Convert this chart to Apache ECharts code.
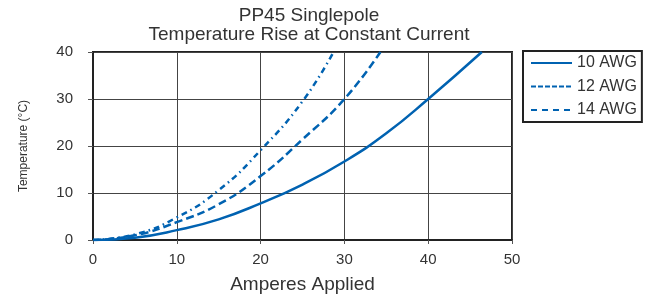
<!DOCTYPE html>
<html>
<head>
<meta charset="utf-8">
<script src="https://cdn.jsdelivr.net/npm/echarts@6/dist/echarts.min.js"></script>
<style>
  html, body { margin: 0; padding: 0; background: #fff; }
  #chart { width: 652px; height: 299px; }
</style>
</head>
<body>
<div id="chart"></div>
<script>
  // data: [amperes, temperature rise]
  const awg10 = [[0, 0], [5, 0.5], [10, 2.1], [15, 4.4], [20, 7.8], [25, 11.8], [30, 16.7], [35, 22.7], [40, 30], [46.4, 40]]
  const awg12 = [[0, 0], [5, 1.0], [10, 3.8], [15, 7.6], [20, 13.6], [25, 21.4], [30, 30], [34.3, 40]]
  const awg14 = [[0, 0], [5, 1.2], [10, 4.8], [15, 10.6], [20, 19.1], [25, 29.5], [28.7, 40]]
  const seriesNames = ['10 AWG', '12 AWG', '14 AWG']
  const titleText = 'PP45 Singlepole\nTemperature Rise at Constant Current'

  const blue = '#0062b1'
  const font = 'Liberation Sans, Arial, sans-serif'

  const chart = echarts.init(document.getElementById('chart'))
  chart.setOption({
    animation: false,
    textStyle: { fontFamily: font },
    title: {
      text: titleText,
      left: 304,
      textAlign: 'center',
      top: 1,
      textStyle: { fontSize: 19, fontWeight: 'normal', color: '#333', lineHeight: 19 }
    },
    grid: {
      left: 93,
      right: 140,
      top: 52,
      bottom: 59,
      show: true,
      borderColor: '#222',
      borderWidth: 2
    },
    legend: {
      orient: 'vertical',
      left: 523,
      top: 51,
      padding: [4, 5, 4, 7],
      itemWidth: 41,
      itemHeight: 14,
      itemGap: 7.5,
      itemTextGap: 3,
      borderColor: '#222',
      borderWidth: 2,
      itemStyle: { opacity: 0 },
      textStyle: { fontSize: 16, color: '#333', lineHeight: 14 },
      data: [
        { name: seriesNames[0], lineStyle: { type: 'solid' } },
        { name: seriesNames[1], lineStyle: { type: [5, 2] } },
        { name: seriesNames[2], lineStyle: { type: [6, 5] } }
      ]
    },
    xAxis: {
      type: 'value',
      min: 0,
      max: 50,
      interval: 10,
      name: 'Amperes Applied',
      nameLocation: 'middle',
      nameGap: 35,
      nameTextStyle: { fontSize: 19, color: '#333' },
      axisLine: { show: true, lineStyle: { color: '#222', width: 2 } },
      axisTick: { show: true, length: 4, lineStyle: { color: '#555' } },
      axisLabel: { fontSize: 15, color: '#333', margin: 12 },
      splitLine: { show: true, lineStyle: { color: '#444', width: 1 } }
    },
    yAxis: {
      type: 'value',
      min: 0,
      max: 40,
      interval: 10,
      name: 'Temperature (°C)',
      nameLocation: 'middle',
      nameRotate: 90,
      nameGap: 63,
      nameTextStyle: { fontSize: 12, color: '#333' },
      axisLine: { show: true, lineStyle: { color: '#222', width: 2 } },
      axisTick: { show: true, length: 5, lineStyle: { color: '#555' } },
      axisLabel: { fontSize: 15, color: '#333', margin: 20 },
      splitLine: { show: true, lineStyle: { color: '#444', width: 1 } }
    },
    series: [
      {
        name: seriesNames[0],
        type: 'line',
        smooth: true,
        showSymbol: false,
        symbol: 'none',
        color: blue,
        lineStyle: { width: 2.5, type: 'solid' },
        data: awg10
      },
      {
        name: seriesNames[1],
        type: 'line',
        smooth: true,
        showSymbol: false,
        symbol: 'none',
        color: blue,
        lineStyle: { width: 2.5, type: [8, 4] },
        data: awg12
      },
      {
        name: seriesNames[2],
        type: 'line',
        smooth: true,
        showSymbol: false,
        symbol: 'none',
        color: blue,
        lineStyle: { width: 2.5, type: [6, 4, 1.5, 4] },
        data: awg14
      }
    ]
  })
</script>
</body>
</html>
